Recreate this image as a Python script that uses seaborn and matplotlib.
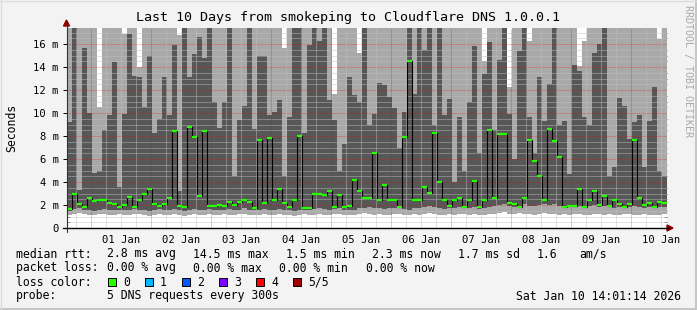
import numpy as np
import pandas as pd
import matplotlib
matplotlib.use("Agg")
import matplotlib.pyplot as plt
import matplotlib.dates as mdates
from matplotlib.lines import Line2D
from matplotlib.patches import Polygon, Rectangle
import seaborn as sns

# ---------------- data ----------------
# 2-hour consolidation steps, starting 31 Dec 14:30
start_time = "2025-12-31 14:30"
step = "2h"

# lowest ping (top of white area)
ping_lo = [1.15, 1.25, 1.30, 1.20, 1.10, 1.15, 1.25, 1.20, 1.10, 1.15,
           1.20, 1.10, 1.15, 1.25, 1.20, 1.10, 1.05, 1.15, 1.20, 1.10,
           1.15, 1.20, 1.10, 1.05, 1.15, 1.20, 1.10, 1.15, 1.25, 1.15,
           1.10, 1.20, 1.15, 1.10, 1.20, 1.25, 1.15, 1.10, 1.15, 1.20,
           1.10, 1.15, 1.20, 1.10, 1.15, 1.05, 1.15, 1.20, 1.10, 1.15,
           1.20, 1.15, 1.10, 1.20, 1.25, 1.15, 1.10, 1.15, 1.20, 1.30,
           1.25, 1.15, 1.20, 1.10, 1.15, 1.20, 1.25, 1.15, 1.10, 1.20,
           1.15, 1.25, 1.30, 1.20, 1.15, 1.10, 1.20, 1.15, 1.25, 1.20,
           1.15, 1.20, 1.10, 1.15, 1.20, 1.25, 1.30, 1.35, 1.25, 1.20,
           1.30, 1.25, 1.20, 1.15, 1.25, 1.30, 1.20, 1.25, 1.15, 1.20,
           1.15, 1.20, 1.25, 1.10, 1.15, 1.20, 1.25, 1.15, 1.20, 1.10,
           1.15, 1.20, 1.25, 1.15, 1.10, 1.20, 1.15, 1.10, 1.15, 1.20]

# second ping (top of lower light band)
ping_2 = [1.50, 1.65, 1.70, 1.60, 1.55, 1.50, 1.60, 1.65, 1.55, 1.60,
          1.60, 1.55, 1.60, 1.65, 1.60, 1.55, 1.50, 1.60, 1.65, 1.55,
          1.60, 1.65, 1.55, 1.50, 1.60, 1.65, 1.55, 1.60, 1.65, 1.60,
          1.55, 1.60, 1.65, 1.55, 1.60, 1.70, 1.60, 1.55, 1.60, 1.65,
          1.55, 1.60, 1.65, 1.60, 1.55, 1.50, 1.60, 1.55, 1.60, 1.65,
          1.70, 1.65, 1.60, 1.65, 1.70, 1.60, 1.55, 1.60, 1.70, 1.75,
          1.80, 1.70, 1.75, 1.65, 1.70, 1.75, 1.70, 1.65, 1.60, 1.70,
          1.75, 1.85, 1.90, 1.80, 1.70, 1.65, 1.75, 1.70, 1.80, 1.70,
          1.75, 1.85, 1.65, 1.75, 1.80, 1.90, 2.00, 2.05, 1.95, 1.85,
          1.75, 2.05, 1.95, 1.90, 2.00, 2.10, 2.00, 2.05, 1.90, 1.75,
          1.80, 1.85, 1.95, 1.70, 1.90, 2.00, 1.85, 1.90, 1.80, 1.75,
          1.80, 1.75, 1.85, 1.90, 1.80, 1.75, 1.85, 1.70, 1.80, 1.85]

# median rtt (ms)
median_rtt = [1.65, 2.95, 2.10, 1.80, 2.60, 2.35, 2.45, 2.40, 2.15, 2.10,
              1.80, 2.00, 2.70, 1.85, 2.45, 3.00, 3.35, 2.10, 1.95, 2.10,
              2.60, 8.40, 1.95, 1.85, 8.75, 7.90, 2.80, 8.40, 1.90, 1.95,
              2.00, 1.95, 2.25, 2.00, 2.25, 2.45, 2.25, 1.70, 7.65, 2.15,
              7.80, 2.45, 3.40, 2.15, 1.85, 2.45, 8.00, 1.70, 1.75, 3.00,
              2.95, 2.90, 3.25, 1.85, 2.90, 1.85, 1.95, 4.20, 3.25, 2.60,
              2.65, 6.55, 2.45, 3.70, 2.45, 2.45, 1.80, 7.90, 14.50, 2.40,
              2.45, 3.60, 3.05, 8.30, 4.00, 2.45, 1.95, 2.45, 2.60, 1.85,
              2.45, 4.10, 1.80, 2.45, 8.55, 2.60, 8.20, 8.20, 2.20, 2.05,
              1.85, 2.65, 7.65, 5.85, 4.50, 2.40, 8.65, 7.55, 6.15, 1.85,
              1.95, 1.95, 3.40, 1.85, 2.40, 3.25, 2.00, 2.80, 1.95, 2.45,
              2.10, 1.85, 2.10, 7.65, 2.60, 2.00, 2.15, 1.85, 2.30, 2.15]

# fourth ping (top of dark smoke); 18 = beyond the top of the chart
ping_4 = [9.2, 18, 3.3, 15.7, 10.0, 4.8, 5.0, 8.5, 9.8, 14.4,
          3.6, 9.9, 16.9, 13.2, 13.1, 10.5, 15.0, 8.3, 9.5, 13.1,
          9.8, 15.9, 3.2, 18, 13.1, 15.1, 16.6, 14.8, 18, 11.0,
          8.7, 11.0, 18, 4.5, 9.4, 10.6, 18, 8.6, 15.0, 15.0,
          9.8, 10.1, 11.1, 4.5, 9.7, 18, 18, 8.3, 15.9, 18,
          16.3, 18, 11.1, 9.4, 5.0, 7.3, 13.1, 11.6, 11.0, 18,
          9.0, 9.9, 12.6, 12.4, 11.4, 10.4, 7.0, 10.1, 18, 11.7,
          18, 15.5, 18, 9.0, 18, 9.8, 11.2, 4.0, 9.7, 5.0,
          11.0, 15.8, 6.5, 13.4, 16.2, 8.5, 14.6, 18, 9.9, 6.0,
          15.4, 18, 9.7, 6.5, 13.1, 9.3, 12.5, 18, 9.0, 9.3,
          4.7, 14.2, 13.7, 9.7, 9.0, 15.2, 16.0, 18, 4.5, 5.3,
          11.3, 10.6, 7.7, 9.2, 9.8, 5.3, 9.3, 12.3, 5.0, 4.5]

# highest ping (top of upper light smoke); 18 = beyond the top of the chart
ping_hi = [18, 18, 18, 18, 18, 18, 10.5, 18, 18, 18,
           18, 16.9, 18, 18, 14.0, 18, 18, 18, 18, 18,
           18, 18, 16.8, 18, 18, 18, 18, 18, 18, 18,
           18, 18, 18, 18, 18, 18, 18, 18, 18, 18,
           18, 18, 18, 15.7, 18, 18, 18, 18, 18, 18,
           18, 18, 18, 11.7, 18, 18, 18, 18, 15.2, 18,
           18, 18, 18, 18, 18, 18, 18, 18, 18, 18,
           18, 18, 18, 18, 18, 18, 18, 18, 18, 18,
           18, 18, 18, 14.5, 18, 18, 18, 18, 12.3, 18,
           18, 18, 16.3, 18, 18, 18, 18, 18, 18, 18,
           18, 18, 14.1, 16.3, 18, 18, 18, 18, 18, 18,
           18, 18, 18, 18, 18, 18, 18, 18, 16.4, 18]

y_ticks = [0, 2, 4, 6, 8, 10, 12, 14, 16]
y_tick_labels = ["0", "2 m", "4 m", "6 m", "8 m", "10 m", "12 m", "14 m", "16 m"]
day_labels = ["01 Jan", "02 Jan", "03 Jan", "04 Jan", "05 Jan",
              "06 Jan", "07 Jan", "08 Jan", "09 Jan", "10 Jan"]

title = "Last 10 Days from smokeping to Cloudflare DNS 1.0.0.1"
loss_names = ["0", "1", "2", "3", "4", "5/5"]
loss_colors = ["#26ff00", "#00b8ff", "#0059ff", "#7e00ff", "#ff0000", "#a10000"]

# ---------------- figure ----------------
W, H = 697, 310
sns.set_theme(style="white")
plt.rcParams["font.family"] = ["DejaVu Sans Mono"]

fig = plt.figure(figsize=(W / 100, H / 100), dpi=100, facecolor="#f3f3f3")


def fx(px):
    return px / W


def fy(py):
    return 1 - py / H


ax = fig.add_axes([fx(67), fy(228), fx(600), 200 / H])
ax.set_facecolor("white")

n = len(median_rtt)
edges = pd.date_range(start_time, periods=n + 1, freq=step)
xe = mdates.date2num(edges)


def ext(v):
    return np.append(np.asarray(v, float), v[-1])


LIGHT = "#a9a9a9"
DARK = "#575757"
ax.fill_between(xe, ext(ping_lo), ext(ping_2), step="post", color=LIGHT, lw=0, zorder=1)
ax.fill_between(xe, ext(ping_2), ext(ping_4), step="post", color=DARK, lw=0, zorder=1)
ax.fill_between(xe, ext(ping_4), ext(ping_hi), step="post", color=LIGHT, lw=0, zorder=1)

ax.set_xlim(xe[0], xe[-1])
ax.set_ylim(0, 17.4)

# grid (drawn over the smoke like rrdtool), crisp 1px dotted lines
dot = (0, (1, 1))
grid_kw = dict(lw=0.72, ls=dot, zorder=1.5, antialiased=False)
for v in np.arange(0.5, 17.4, 0.5):
    if abs(v / 2 - round(v / 2)) < 1e-6:
        ax.axhline(v, color="#ff0000", alpha=0.22, **grid_kw)
    else:
        ax.axhline(v, color="#c0c0c0", alpha=0.45, **grid_kw)
six_hours = mdates.date2num(pd.date_range("2025-12-31 18:00", "2026-01-10 12:00", freq="6h"))
midnights = mdates.date2num(pd.date_range("2026-01-01", periods=10, freq="D"))
for v in six_hours:
    if np.min(np.abs(midnights - v)) < 1e-6:
        ax.axvline(v, color="#ff0000", alpha=0.25, **grid_kw)
    else:
        ax.axvline(v, color="#c0c0c0", alpha=0.45, **grid_kw)

# median line (black steps) and loss-coloured median marks
med_df = pd.DataFrame({"t": edges, "median": ext(median_rtt)})
sns.lineplot(data=med_df, x="t", y="median", drawstyle="steps-post", color="black",
             lw=0.8, estimator=None, sort=False, ax=ax, zorder=3)
ax.hlines(median_rtt, edges[:-1], edges[1:], colors=loss_colors[0], lw=1.6, zorder=4)

# axes styling
for s in ax.spines.values():
    s.set_visible(False)
ax.set_xlabel("")
ax.set_ylabel("")

noons = mdates.date2num(pd.date_range("2026-01-01 12:00", periods=10, freq="D"))
ax.set_xticks(noons)
ax.set_xticklabels(day_labels, fontsize=7.6)
ax.set_xticks(six_hours, minor=True)
ax.tick_params(axis="x", which="major", length=0, pad=5, colors="black")
ax.tick_params(axis="x", which="minor", length=2.5, width=0.7, direction="inout", colors="black")

ax.set_yticks(y_ticks)
ax.set_yticklabels(y_tick_labels, fontsize=7.6)
ax.set_yticks(np.arange(0.5, 17.4, 0.5), minor=True)
ax.tick_params(axis="y", which="major", length=3, width=0.7, direction="out", pad=3,
               left=True, colors="black")
ax.tick_params(axis="y", which="minor", length=2, width=0.6, direction="in",
               left=True, right=True, colors="#555555")

# axis lines and arrows (figure pixel coordinates)
fig.add_artist(Line2D([fx(63), fx(669)], [fy(228), fy(228)], color="black", lw=1.0))
fig.add_artist(Line2D([fx(66.5), fx(66.5)], [fy(232), fy(24)], color="#333333", lw=0.8))
arrow_c = "#8b0000"
fig.add_artist(Polygon([[fx(667), fy(225)], [fx(673), fy(228)], [fx(667), fy(231)]],
                       closed=True, color=arrow_c, transform=fig.transFigure))
fig.add_artist(Polygon([[fx(63.5), fy(26)], [fx(66.5), fy(20)], [fx(69.5), fy(26)]],
                       closed=True, color=arrow_c, transform=fig.transFigure))

# frame of the canvas
fig.add_artist(Line2D([fx(695.5), fx(695.5)], [0, 1], color="#c6c6c6", lw=2.2))
fig.add_artist(Line2D([0, 1], [fy(308.5), fy(308.5)], color="#c6c6c6", lw=2.2))
fig.add_artist(Line2D([fx(0.5), fx(0.5)], [0, 1], color="#dcdcdc", lw=1))
fig.add_artist(Line2D([0, 1], [fy(0.5), fy(0.5)], color="#dcdcdc", lw=1))

# texts
fig.text(fx(348), fy(18), title, ha="center", va="center", fontsize=9.6, color="black")
fig.text(fx(12), fy(128), "Seconds", ha="center", va="center", rotation=90,
         fontsize=8.3, color="black")
fig.text(fx(688), fy(5), "RRDTOOL / TOBI OETIKER", ha="center", va="top",
         rotation=270, fontsize=7.2, color="#a8a8a8")

FS = 8.3
rows = [
    (254, [(16, "median rtt:"), (107, "2.8 ms avg"), (193, "14.5 ms max"),
           (286, "1.5 ms min"), (372, "2.3 ms now"), (458, "1.7 ms sd"),
           (537, "1.6"), (579, "am/s")]),
    (268, [(16, "packet loss:"), (107, "0.00 % avg"), (193, "0.00 % max"),
           (279, "0.00 % min"), (366, "0.00 % now")]),
    (282, [(16, "loss color:")]),
    (296, [(16, "probe:"), (107, "5 DNS requests every 300s")]),
]
for yy, items in rows:
    for xx, s in items:
        fig.text(fx(xx), fy(yy), s, ha="left", va="center", fontsize=FS, color="black")

box_x = [108, 145, 182, 219, 256, 293]
for bx, name, col in zip(box_x, loss_names, loss_colors):
    fig.add_artist(Rectangle((fx(bx), fy(286)), fx(8), 8 / H, transform=fig.transFigure,
                             facecolor=col, edgecolor="black", lw=0.7))
    fig.text(fx(bx + 15), fy(282), name, ha="left", va="center", fontsize=FS, color="black")

fig.text(fx(681), fy(296), "Sat Jan 10 14:01:14 2026", ha="right", va="center",
         fontsize=FS, color="black")

fig.savefig("out.png", dpi=100, facecolor=fig.get_facecolor())
